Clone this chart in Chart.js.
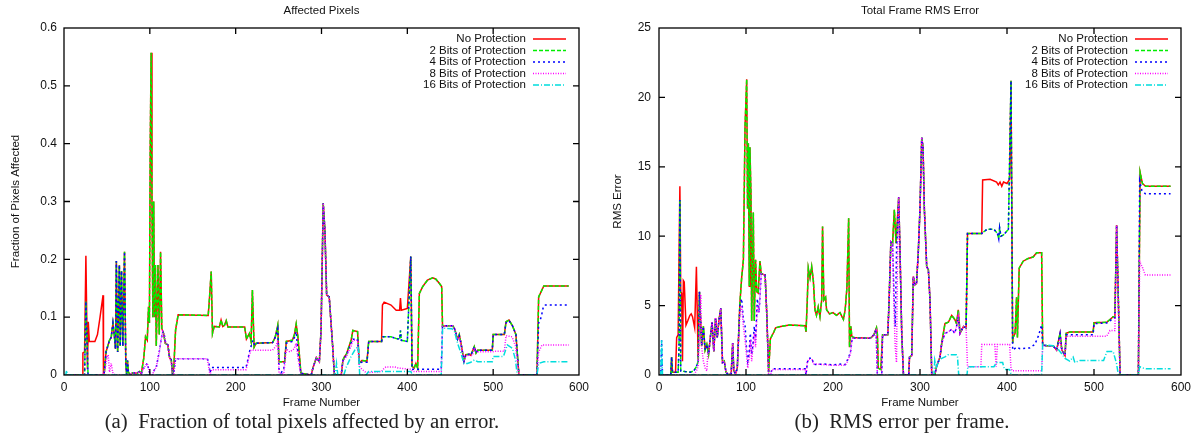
<!DOCTYPE html>
<html>
<head>
<meta charset="utf-8">
<script src="https://cdn.jsdelivr.net/npm/chart.js@4.4.1/dist/chart.umd.min.js"></script>
<style>
  body { margin: 0; background: #fff; width: 1198px; height: 434px; position: relative; overflow: hidden; }
  .panel { position: absolute; top: 0; height: 434px; }
  .caption { position: absolute; top: 408px; font-family: "Liberation Serif", "Times New Roman", serif;
             font-size: 20.8px; line-height: 26px; color: #222; white-space: nowrap; transform: translateX(-50%); }
</style>
</head>
<body>
<div class="panel" style="left:0;width:600px"><canvas id="pixels"></canvas></div>
<div class="panel" style="left:600px;width:598px"><canvas id="rms"></canvas></div>
<div class="caption" style="left:302px">(a)&nbsp; Fraction of total pixels affected by an error.</div>
<div class="caption" style="left:902px">(b)&nbsp; RMS error per frame.</div>
<script>
// series labels and styles (gnuplot default line types)
const seriesNames = ['No Protection', '2 Bits of Protection', '4 Bits of Protection', '8 Bits of Protection', '16 Bits of Protection'];
const seriesColors = ['#ff0000', '#00ee00', '#0000ff', '#ff00ff', '#00dddd'];
const seriesDashes = [[], [4, 2], [2, 3], [1, 1.5], [6, 2, 1, 2]];

const frameTicks = [0, 100, 200, 300, 400, 500, 600];
const pixelTicks = [0, 0.1, 0.2, 0.3, 0.4, 0.5, 0.6];
const rmsTicks = [0, 5, 10, 15, 20, 25];

// ---- (a) fraction of pixels affected, [frame, value] ----
const pixNone = [[0,0],[21,0],[22,0.038],[24,0.04],[25.5,0.206],[26.5,0.1],[27.3,0.01],[28.3,0.092],[29.5,0.058],[36,0.058],[39,0.07],[42,0.1],[45.5,0.138],[46,0],[47,0.005],[49,0.04],[51,0.05],[53,0.06],[55,0.065],[57,0.09],[58.5,0.07],[60,0.045],[61,0.197],[62.5,0.04],[64.5,0.19],[65.5,0.05],[67,0.18],[68.5,0.05],[70.5,0.213],[72,0.02],[73,0],[74,0.025],[75,0.005],[77,0],[80,0.004],[85,0.003],[88,0.006],[90,0.002],[93,0.03],[95,0.066],[97,0.06],[98.5,0.118],[99.5,0.09],[100.5,0.4],[101.5,0.557],[102.5,0.3],[103.5,0.1],[104.5,0.3],[105.5,0.1],[106.5,0.19],[107.5,0.05],[109.5,0.19],[111,0.07],[112.5,0.213],[114,0.08],[116,0.072],[118,0.055],[121,0.052],[123,0.03],[125,0.026],[126.5,0],[128,0.015],[130,0.078],[133,0.104],[168,0.103],[169.5,0.133],[171.5,0.179],[173,0.072],[175,0.084],[181,0.083],[183,0.095],[185,0.084],[187,0.086],[189,0.094],[191,0.083],[210.5,0.083],[212.5,0.062],[216,0.072],[218,0.058],[219.5,0.147],[221.5,0.048],[224,0.055],[243,0.056],[246,0.065],[249,0.086],[250.5,0.023],[257,0.023],[259,0.058],[266,0.06],[268.5,0.07],[270.5,0.088],[272.5,0.066],[276,0.003],[288,0],[290,0.012],[294,0.03],[297.5,0.023],[299.5,0.078],[302,0.297],[304,0.25],[306,0.138],[309,0.135],[313,0.05],[315,0],[323,0],[325,0.026],[327,0.032],[329,0.036],[334.5,0.06],[336.5,0.077],[342,0.075],[344,0.021],[347,0.025],[353,0.024],[355,0.058],[370,0.058],[371,0.121],[373,0.126],[381,0.121],[387,0.112],[391,0.112],[392,0.133],[393,0.112],[400,0.115],[404,0.205],[405.5,0.015],[408,0.012],[410,0.02],[412,0.012],[414,0.141],[418,0.153],[423.5,0.164],[429.5,0.168],[433,0.166],[437,0.159],[440,0.153],[441,0.084],[445,0.085],[453,0.085],[455,0.08],[458.5,0.062],[460.5,0.07],[462.5,0.055],[466,0.024],[468,0.035],[472,0.036],[474,0.034],[478,0.049],[480,0.038],[482,0.043],[499,0.043],[500,0.07],[513,0.07],[515,0.092],[518.5,0.095],[522.5,0.085],[526.5,0.07],[530,0],[551,0],[553,0.135],[559,0.154],[588,0.154]];

const pixTwo = [[0,0],[24,0],[25.5,0.127],[27,0.05],[28,0],[46,0],[47,0.005],[49,0.04],[51,0.05],[53,0.06],[55,0.065],[57,0.09],[58.5,0.07],[60,0.045],[61,0.197],[62.5,0.04],[64.5,0.19],[65.5,0.05],[67,0.18],[68.5,0.05],[70.5,0.213],[72,0.02],[73,0],[74,0.025],[75,0.005],[77,0],[80,0.004],[85,0.003],[88,0.006],[90,0.002],[93,0.03],[95,0.066],[97,0.06],[98.5,0.118],[99.5,0.09],[100.5,0.4],[101.5,0.557],[102.5,0.3],[103.5,0.1],[104.5,0.3],[105.5,0.1],[106.5,0.19],[107.5,0.05],[109.5,0.19],[111,0.07],[112.5,0.213],[114,0.08],[116,0.072],[118,0.055],[121,0.052],[123,0.03],[125,0.026],[126.5,0],[128,0.015],[130,0.078],[133,0.104],[168,0.103],[169.5,0.133],[171.5,0.179],[173,0.072],[175,0.084],[181,0.083],[183,0.095],[185,0.084],[187,0.086],[189,0.094],[191,0.083],[210.5,0.083],[212.5,0.062],[216,0.072],[218,0.058],[219.5,0.147],[221.5,0.048],[224,0.055],[243,0.056],[246,0.065],[249,0.086],[250.5,0.023],[257,0.023],[259,0.058],[266,0.06],[268.5,0.07],[270.5,0.088],[272.5,0.066],[276,0.003],[288,0],[290,0.012],[294,0.03],[297.5,0.023],[299.5,0.078],[302,0.297],[304,0.25],[306,0.138],[309,0.135],[313,0.05],[315,0],[323,0],[325,0.026],[327,0.032],[329,0.036],[334.5,0.06],[336.5,0.077],[342,0.075],[344,0.021],[347,0.025],[353,0.024],[355,0.058],[370,0.058],[371,0.066],[381,0.066],[387,0.063],[391,0.062],[392,0.077],[393,0.06],[400,0.058],[404,0.205],[405.5,0.015],[408,0.012],[410,0.02],[412,0.012],[414,0.141],[418,0.153],[423.5,0.164],[429.5,0.168],[433,0.166],[437,0.159],[440,0.153],[441,0.084],[445,0.085],[453,0.085],[455,0.08],[458.5,0.062],[460.5,0.07],[462.5,0.055],[466,0.024],[468,0.035],[472,0.036],[474,0.034],[478,0.049],[480,0.038],[482,0.043],[499,0.043],[500,0.07],[513,0.07],[515,0.092],[518.5,0.095],[522.5,0.085],[526.5,0.07],[530,0],[551,0],[553,0.135],[559,0.154],[588,0.154]];

const pixFour = [[0,0],[24,0],[25.5,0.127],[27,0.05],[28,0],[46,0],[47,0.005],[49,0.04],[51,0.05],[53,0.06],[55,0.065],[57,0.09],[58.5,0.07],[60,0.045],[61,0.197],[62.5,0.04],[64.5,0.19],[65.5,0.05],[67,0.18],[68.5,0.05],[70.5,0.213],[72,0.02],[73,0],[74,0.025],[75,0.005],[77,0],[80,0.004],[85,0.003],[88,0.006],[90,0.002],[93,0.012],[95,0.016],[97,0.02],[99.5,0.005],[101,0],[103,0],[105,0.008],[107.5,0.013],[109,0.025],[111,0.04],[113,0.06],[115,0.075],[116.5,0.072],[118.5,0.055],[121,0.052],[123,0.03],[125,0.026],[126.5,0],[128,0.005],[130,0.028],[167,0.028],[169,0.02],[170,0.004],[172,0.013],[212,0.013],[214,0.025],[216,0.04],[218,0.05],[220,0.06],[222,0.052],[224,0.055],[243,0.056],[246,0.065],[249,0.08],[250.5,0.01],[253,0.004],[256,0.01],[259,0.055],[266,0.058],[268.5,0.065],[270.5,0.075],[272.5,0.04],[276,0.003],[288,0],[290,0.012],[294,0.03],[297.5,0.023],[299.5,0.078],[302,0.297],[304,0.25],[306,0.138],[309,0.135],[313,0.05],[315,0],[323,0],[325,0.026],[327,0.03],[329,0.034],[334.5,0.055],[336.5,0.062],[342,0.062],[344,0.021],[347,0.022],[353,0.022],[355,0.058],[370,0.058],[371,0.066],[381,0.066],[387,0.063],[391,0.062],[392,0.077],[393,0.06],[400,0.058],[404,0.205],[405.5,0.01],[439.5,0.01],[441,0.084],[445,0.085],[453,0.085],[455,0.08],[458.5,0.062],[460.5,0.068],[462.5,0.055],[466,0.024],[468,0.035],[472,0.036],[474,0.034],[478,0.049],[480,0.038],[482,0.043],[499,0.043],[500,0.07],[513,0.07],[515,0.09],[518.5,0.094],[522.5,0.085],[526.5,0.07],[530,0],[551,0],[553,0.09],[556,0.1],[558,0.115],[560,0.121],[588,0.121]];

const pixEight = [[0,0],[45,0],[48,0.01],[50,0.03],[51.5,0.035],[53,0.005],[55,0.02],[57,0.003],[60,0],[75,0],[80,0.004],[85,0.003],[88,0.006],[90,0.002],[93,0.012],[95,0.016],[97,0.02],[99.5,0.005],[101,0],[103,0],[105,0.008],[107.5,0.013],[109,0.025],[111,0.04],[113,0.06],[115,0.075],[116.5,0.07],[118.5,0.055],[121,0.052],[123,0.03],[125,0.022],[126.5,0],[128,0.003],[130,0.028],[167,0.028],[169,0.01],[170,0],[172,0.009],[212,0.009],[214,0.02],[216,0.035],[218,0.043],[243,0.043],[247,0.05],[249,0.06],[250.5,0.003],[256,0.002],[259,0.045],[263,0.04],[268,0.045],[270.5,0.055],[272.5,0.03],[276,0],[288,0],[290,0.012],[294,0.03],[297.5,0.023],[299.5,0.078],[302,0.297],[304,0.25],[306,0.138],[309,0.135],[313,0.05],[315,0],[323,0],[325,0.024],[329,0.032],[334.5,0.05],[336.5,0.06],[342,0.06],[344,0.015],[347,0.01],[352,0.004],[370,0.006],[372,0.01],[375,0.014],[385,0.014],[390,0.012],[404,0.01],[406,0.006],[439.5,0.006],[441,0.084],[445,0.085],[453,0.085],[455,0.08],[458.5,0.062],[460.5,0.065],[462.5,0.052],[466,0.024],[468,0.033],[472,0.034],[476,0.034],[478,0.045],[482,0.04],[499,0.04],[501,0.041],[513,0.041],[515,0.068],[522,0.066],[526,0.05],[530,0],[551,0],[553,0.04],[557,0.052],[588,0.052]];

const pixSixteen = [[0,0],[2,0],[3,0.008],[4,0],[316,0],[317.5,0.02],[319,0],[326,0],[328.7,0.013],[334.5,0.032],[340,0.046],[343,0.049],[344.5,0],[352,0],[355,0.006],[404,0.006],[406,0],[439.5,0],[441,0.081],[452,0.08],[455,0.075],[458.5,0.055],[462,0.04],[466,0.02],[470,0.02],[474,0.022],[478,0.026],[482,0.023],[499,0.023],[500,0.032],[512,0.032],[516.5,0.052],[522.5,0.046],[526,0.026],[528,0],[551,0],[553,0.02],[559,0.023],[588,0.023]];

// ---- (b) total frame RMS error, [frame, value] ----
const rmsNone = [[0,0],[13.5,0],[14.5,1.3],[15.5,0.2],[19,0.2],[20.3,2.7],[22,2.9],[24,13.6],[25,6.0],[26,5.9],[27,1.0],[28,6.8],[29,6.7],[31,3.6],[33,3.9],[35.5,4.3],[37,4.4],[38.5,4.2],[41,3.4],[43,7.8],[45,1.1],[46.5,6.0],[49,2.1],[51,3.5],[53,1.8],[55,2.2],[57,1.5],[59,2.7],[61,3.8],[63,1.7],[65,4.1],[67,2.7],[69,4.0],[71,4.8],[73,0.9],[75,1.0],[77,0.2],[80,0],[83,0.1],[84.7,2.3],[86,0.3],[88,0.1],[90,0.5],[93,5.2],[95,7.0],[97,8.3],[98.9,17.9],[100.8,21.3],[101.8,12],[102.7,16.7],[103.8,6.4],[104.5,16.4],[105.7,13.1],[106.5,3.9],[108.4,11.7],[109.5,3.9],[111,8.3],[112.3,6.0],[114,5.9],[116,8.2],[117.5,7.3],[122,7.2],[124,4.2],[126,0.2],[128,2.6],[132,3.1],[134,3.4],[140,3.5],[150,3.6],[168,3.55],[169,3.1],[170.5,5.5],[171.6,7.7],[173.6,7.0],[175.5,7.8],[177.4,6.8],[179.3,4.7],[181,4.3],[183,4.9],[185,4.2],[187,5.4],[188,10.7],[189.5,5.4],[191.5,5.6],[192.6,4.7],[196,4.4],[200,4.5],[204,4.3],[208,4.5],[212,4.0],[214,4.7],[216,6.3],[218,11.3],[219,2.0],[220.5,3.5],[221.6,2.8],[223.5,2.7],[243,2.64],[247,2.9],[250,3.4],[251,2.95],[252,0.5],[255,0.4],[257,2.9],[263,2.9],[264.5,5.4],[266.5,9.6],[268.5,9.5],[270.5,11.9],[272.5,9.5],[275.5,12.8],[277,9.0],[279,3],[281,0],[287,0],[288,1.3],[290.5,1.4],[292.3,7.1],[294,6.5],[296,6.6],[298,8.8],[300,12],[302,17.1],[303.5,16.4],[305,12],[307.7,7.8],[309.6,7.6],[311.5,5.4],[313.5,0],[317,0],[319,0.6],[323,1.3],[325,2.3],[328.7,3.7],[332.6,3.8],[336.4,4.3],[340,4.0],[342,3.7],[344,4.7],[346,3.0],[350,3.5],[353,3.4],[354.6,10.2],[371,10.2],[372,14.05],[380.6,14.1],[388,13.9],[390,13.7],[392,13.9],[394,13.6],[396,13.9],[400,13.8],[403,14.1],[404.6,21.2],[406.5,2.3],[407,2.7],[409.3,3.0],[411,5.6],[412,2.7],[414,7.7],[418.6,8.2],[424.4,8.4],[430,8.5],[434,8.8],[439.8,8.8],[441,2.16],[445.6,2.1],[453,2.1],[457,1.8],[461,3.0],[463,1.8],[466.7,1.4],[468,3.0],[472,3.1],[499,3.1],[500,3.77],[514.6,3.8],[518.4,4.0],[522,4.2],[524,4.2],[526,10.8],[528,5.4],[530,0],[551,0],[553,14.6],[555.6,13.8],[559.4,13.6],[588,13.6]];

const rmsTwo = [[0,0],[13.5,0],[14.5,1.3],[15.5,0.2],[22,0.2],[23,2],[24,12.6],[25,0.3],[30,0.25],[36,0.2],[40,0.3],[43,0.6],[45,1.0],[46.5,6.0],[49,2.1],[51,3.5],[53,1.8],[55,2.2],[57,1.5],[59,2.7],[61,3.8],[63,1.7],[65,4.1],[67,2.7],[69,4.0],[71,4.8],[73,0.9],[75,1.0],[77,0.2],[80,0],[83,0.1],[84.7,2.3],[86,0.3],[88,0.1],[90,0.5],[93,5.2],[95,7.0],[97,8.3],[98.9,17.9],[100.8,21.3],[101.8,12],[102.7,16.7],[103.8,6.4],[104.5,16.4],[105.7,13.1],[106.5,3.9],[108.4,11.7],[109.5,3.9],[111,8.3],[112.3,6.0],[114,5.9],[116,8.2],[117.5,7.3],[122,7.2],[124,4.2],[126,0.2],[128,2.6],[132,3.1],[134,3.4],[140,3.5],[150,3.6],[168,3.55],[169,3.1],[170.5,5.5],[171.6,7.7],[173.6,7.0],[175.5,7.8],[177.4,6.8],[179.3,4.7],[181,4.3],[183,4.9],[185,4.2],[187,5.4],[188,10.7],[189.5,5.4],[191.5,5.6],[192.6,4.7],[196,4.4],[200,4.5],[204,4.3],[208,4.5],[212,4.0],[214,4.7],[216,6.3],[218,11.3],[219,2.0],[220.5,3.5],[221.6,2.8],[223.5,2.7],[243,2.64],[247,2.9],[250,3.4],[251,2.95],[252,0.5],[255,0.4],[257,2.9],[263,2.9],[264.5,5.4],[266.5,9.6],[268.5,9.5],[270.5,11.9],[272.5,9.5],[275.5,12.8],[277,9.0],[279,3],[281,0],[287,0],[288,1.3],[290.5,1.4],[292.3,7.1],[294,6.5],[296,6.6],[298,8.8],[300,12],[302,17.1],[303.5,16.4],[305,12],[307.7,7.8],[309.6,7.6],[311.5,5.4],[313.5,0],[317,0],[319,0.6],[323,1.3],[325,2.3],[328.7,3.7],[332.6,3.8],[336.4,4.3],[340,4.0],[342,3.7],[344,4.7],[346,3.0],[350,3.5],[353,3.4],[354.6,10.2],[371,10.2],[373,10.3],[377,10.5],[385,10.5],[389,10.2],[390.5,9.8],[391.5,10.6],[393,10.0],[396,10.1],[401.6,10.5],[404.6,21.2],[406.5,2.3],[407,2.7],[409.3,3.0],[411,5.6],[412,2.7],[414,7.7],[418.6,8.2],[424.4,8.4],[430,8.5],[434,8.8],[439.8,8.8],[441,2.16],[445.6,2.1],[453,2.1],[457,1.8],[461,3.0],[463,1.8],[466.7,1.4],[468,3.0],[472,3.1],[499,3.1],[500,3.77],[514.6,3.8],[518.4,4.0],[522,4.2],[524,4.2],[526,10.8],[528,5.4],[530,0],[551,0],[553,14.6],[555.6,13.8],[559.4,13.6],[588,13.6]];

const rmsFour = [[0,0],[2,0],[3,2.5],[4,0],[13.5,0],[14.5,1.3],[15.5,0.2],[22,0.2],[23,2],[24,12.6],[25,0.3],[30,0.25],[36,0.2],[40,0.3],[43,0.6],[45,1.0],[46.5,6.0],[49,2.1],[51,3.5],[53,1.8],[55,2.2],[57,1.5],[59,2.7],[61,3.8],[63,1.7],[65,4.1],[67,2.7],[69,4.0],[71,4.8],[73,0.9],[75,1.0],[77,0.2],[80,0],[83,0.1],[84.7,2.3],[86,0.3],[88,0.1],[90,0.5],[93,5.0],[95,5.5],[97,4.0],[99,3.5],[100.5,2.0],[102,1.0],[103.5,1.5],[105,3.0],[106.5,1.5],[108,2.2],[109.5,3.5],[111,2.5],[113,5.5],[115,4.5],[117.5,7.3],[122,7.2],[124,4.2],[126,0],[128,0],[130,0.45],[168,0.45],[169,0],[170.5,0.9],[172,1.2],[176,1.2],[177.4,0.8],[180,0.75],[190,0.8],[200,0.72],[210,0.8],[214,0.75],[216,1.0],[220,1.6],[222,2.64],[243,2.64],[247,2.9],[249.5,3.3],[251,0],[256,0],[257,2.9],[263,2.9],[264.5,5.4],[266.5,9.6],[268.5,9.5],[270,6],[271.5,3.5],[273,9],[275.5,12.8],[277,9.0],[279,3],[281,0],[287,0],[288,1.3],[290.5,1.4],[292.3,7.1],[294,6.5],[296,6.6],[298,8.8],[300,12],[302,17.1],[303.5,16.4],[305,12],[307.7,7.8],[309.6,7.6],[311.5,5.4],[313.5,0],[317,0],[319,0.6],[323,1.3],[325,2.3],[328.7,3.0],[332.6,3.1],[336.4,3.3],[340,3.0],[342,3.5],[344,4.2],[346,3.0],[350,3.5],[353,3.4],[354.6,10.2],[371,10.2],[373,10.3],[377,10.5],[385,10.5],[389,10.2],[390.5,9.8],[391.5,10.6],[393,10.0],[396,10.1],[401.6,10.5],[404.6,21.2],[406.5,1.8],[411,2.0],[415,1.9],[426,1.95],[432,2.2],[436,2.8],[439.8,3.6],[441,2.16],[445.6,2.1],[453,2.1],[457,1.8],[461,3.0],[463,1.8],[466.7,1.4],[468,2.9],[499,2.9],[500,3.7],[514.6,3.75],[518.4,3.9],[522,4.1],[524,4.1],[526,10.8],[528,5.4],[530,0],[551,0],[552.5,14],[555,13.3],[559,13.05],[588,13.05]];

const rmsEight = [[0,0],[40,0],[43,0.3],[45,0.6],[46.5,3.0],[48,5.8],[49,2.0],[51,1.0],[53,0.5],[55,0.3],[56,1.5],[57,1.5],[59,2.7],[61,3.8],[63,1.7],[65,4.1],[67,2.7],[69,4.0],[71,4.8],[73,0.9],[75,1.0],[77,0.2],[80,0],[83,0.1],[84.7,2.3],[86,0.3],[88,0.1],[90,0.5],[93,4.5],[95,5.0],[97,3.5],[99,2.5],[100.5,1.5],[102,0.5],[103.5,1.2],[105,2.5],[106.5,1.0],[108,2.0],[109.5,3.0],[111,2.0],[113,5.0],[115,4.5],[117.5,7.3],[122,7.2],[124,4.2],[126,0],[128,0],[130,0.4],[168,0.4],[169,0],[170.5,0.9],[172,1.15],[176,1.1],[177.4,0.8],[200,0.7],[214,0.7],[216,0.9],[220,1.5],[222,2.64],[243,2.64],[247,2.9],[249.5,3.2],[251,0],[256,0],[257,2.9],[263,2.9],[264.5,5.4],[266.5,9.6],[268.5,9.5],[270,5],[271.5,2.0],[273,0.9],[274,8],[275.5,12.8],[277,9.0],[279,3],[281,0],[287,0],[288,1.3],[290.5,1.4],[292.3,7.1],[294,6.5],[296,6.6],[298,8.8],[300,12],[302,17.1],[303.5,16.4],[305,12],[307.7,7.8],[309.6,7.6],[311.5,5.4],[313.5,0],[317,0],[319,0.6],[323,1.3],[325,2.3],[328.7,3.0],[332.6,3.1],[336.4,3.3],[340,3.0],[342,3.5],[344,4.2],[346,3.0],[350,3.5],[353,3.4],[354.6,0.6],[370,0.6],[371,2.2],[386,2.2],[387.5,0.6],[389,2.2],[403,2.2],[404.6,0.5],[406,0.3],[439.8,0.3],[441,2.16],[445.6,2.1],[453,2.1],[457,1.8],[461,2.5],[463,1.8],[466.7,1.4],[468,2.8],[514.6,2.8],[518.4,3.2],[524,3.2],[526,10.8],[528,5.0],[530,0],[551,0],[552.5,8.2],[556,7.7],[559,7.2],[588,7.2]];

const rmsSixteen = [[0,0],[2,0],[3,2.5],[4,0],[316,0],[317,1.1],[319,0.6],[321,0.9],[323,1.1],[325,1.2],[328.7,1.3],[332,1.45],[342,1.45],[343,1.4],[344.5,0],[354,0],[355,0.6],[385,0.6],[388,0.9],[395,0.9],[397,0.4],[403,0.4],[405,0],[439.8,0],[441,2.2],[453,2.1],[457,2.0],[462,1.6],[466.7,1.2],[472,1.0],[476,1.3],[478,0.9],[484,1.05],[511,1.05],[515,1.7],[522,1.7],[526,0.8],[528,0],[551,0],[552.5,0.6],[556,0.5],[560,0.45],[588,0.45]];

const FONT = '"Liberation Sans", Arial, Helvetica, sans-serif';

// gnuplot look: closed box, inward mirrored ticks, title and key inside the plot
const gnuplotFrame = {
   id: 'gnuplotFrame',
   afterDraw(chart, args, opts) {
      const { ctx, chartArea: a, scales } = chart;
      ctx.save();
      ctx.strokeStyle = '#000';
      ctx.lineWidth = 1.3;
      ctx.strokeRect(a.left, a.top, a.right - a.left, a.bottom - a.top);

      ctx.beginPath();
      scales.x.ticks.forEach(t => {
         const px = scales.x.getPixelForValue(t.value);
         if (px <= a.left + 1 || px >= a.right - 1) return;
         ctx.moveTo(px, a.bottom); ctx.lineTo(px, a.bottom - 6);
         ctx.moveTo(px, a.top); ctx.lineTo(px, a.top + 6);
      });
      scales.y.ticks.forEach(t => {
         const py = scales.y.getPixelForValue(t.value);
         if (py <= a.top + 1 || py >= a.bottom - 1) return;
         ctx.moveTo(a.left, py); ctx.lineTo(a.left + 6, py);
         ctx.moveTo(a.right, py); ctx.lineTo(a.right - 6, py);
      });
      ctx.stroke();

      ctx.fillStyle = '#111';
      ctx.font = '11.5px ' + FONT;
      ctx.textBaseline = 'middle';
      ctx.textAlign = 'center';
      ctx.fillText(opts.title, (a.left + a.right) / 2, 11);

      // key
      ctx.textAlign = 'right';
      chart.data.datasets.forEach((ds, i) => {
         const y = a.top + 11 + i * 11.5;
         ctx.fillStyle = '#111';
         ctx.fillText(ds.label, a.right - 53, y);
         ctx.strokeStyle = ds.borderColor;
         ctx.lineWidth = 1.5;
         ctx.setLineDash(ds.borderDash);
         ctx.beginPath();
         ctx.moveTo(a.right - 46, y);
         ctx.lineTo(a.right - 13, y);
         ctx.stroke();
         ctx.setLineDash([]);
      });
      ctx.restore();
   }
};

function makeDatasets(seriesList) {
   return seriesList.map((pts, i) => ({
      label: seriesNames[i],
      data: pts.map(p => ({ x: p[0], y: p[1] })),
      borderColor: seriesColors[i],
      borderDash: seriesDashes[i],
      borderWidth: 1.5,
      pointRadius: 0,
      tension: 0,
      order: seriesList.length - i
   }));
}

function makeChart(id, seriesList, yTicks, yMax, title, yTitle, opt) {
   new Chart(document.getElementById(id), {
      type: 'line',
      data: { datasets: makeDatasets(seriesList) },
      plugins: [gnuplotFrame],
      options: {
         responsive: true,
         maintainAspectRatio: false,
         animation: false,
         events: [],
         layout: { padding: { top: 28, right: opt.right, bottom: 22, left: 0 } },
         plugins: {
            legend: { display: false },
            tooltip: { enabled: false },
            gnuplotFrame: { title: title }
         },
         scales: {
            x: {
               type: 'linear', min: 0, max: 600,
               afterBuildTicks: s => { s.ticks = frameTicks.map(v => ({ value: v })); },
               afterFit: s => { s.height = 37; },
               grid: { display: false, drawTicks: false },
               border: { display: false },
               ticks: { padding: 5, color: '#111', font: { family: FONT, size: 12 }, maxRotation: 0 },
               title: { display: true, text: 'Frame Number', color: '#111',
                        font: { family: FONT, size: 11.5 }, padding: { top: 0, bottom: 2 } }
            },
            y: {
               type: 'linear', min: 0, max: yMax,
               afterBuildTicks: s => { s.ticks = yTicks.map(v => ({ value: v })); },
               afterFit: s => { s.width = opt.yWidth; },
               grid: { display: false, drawTicks: false },
               border: { display: false },
               ticks: { padding: opt.tickPad, color: '#111', font: { family: FONT, size: 12 },
                        callback: v => String(v) },
               title: { display: true, text: yTitle, color: '#111',
                        font: { family: FONT, size: 11.5 }, padding: { top: opt.titlePad, bottom: 0 } }
            }
         }
      }
   });
}

makeChart('pixels', [pixNone, pixTwo, pixFour, pixEight, pixSixteen], pixelTicks, 0.6,
   'Affected Pixels', 'Fraction of Pixels Affected', { right: 21, yWidth: 64, tickPad: 7, titlePad: 9 });
makeChart('rms', [rmsNone, rmsTwo, rmsFour, rmsEight, rmsSixteen], rmsTicks, 25,
   'Total Frame RMS Error', 'RMS Error', { right: 17, yWidth: 59, tickPad: 8, titlePad: 11 });
</script>
</body>
</html>
